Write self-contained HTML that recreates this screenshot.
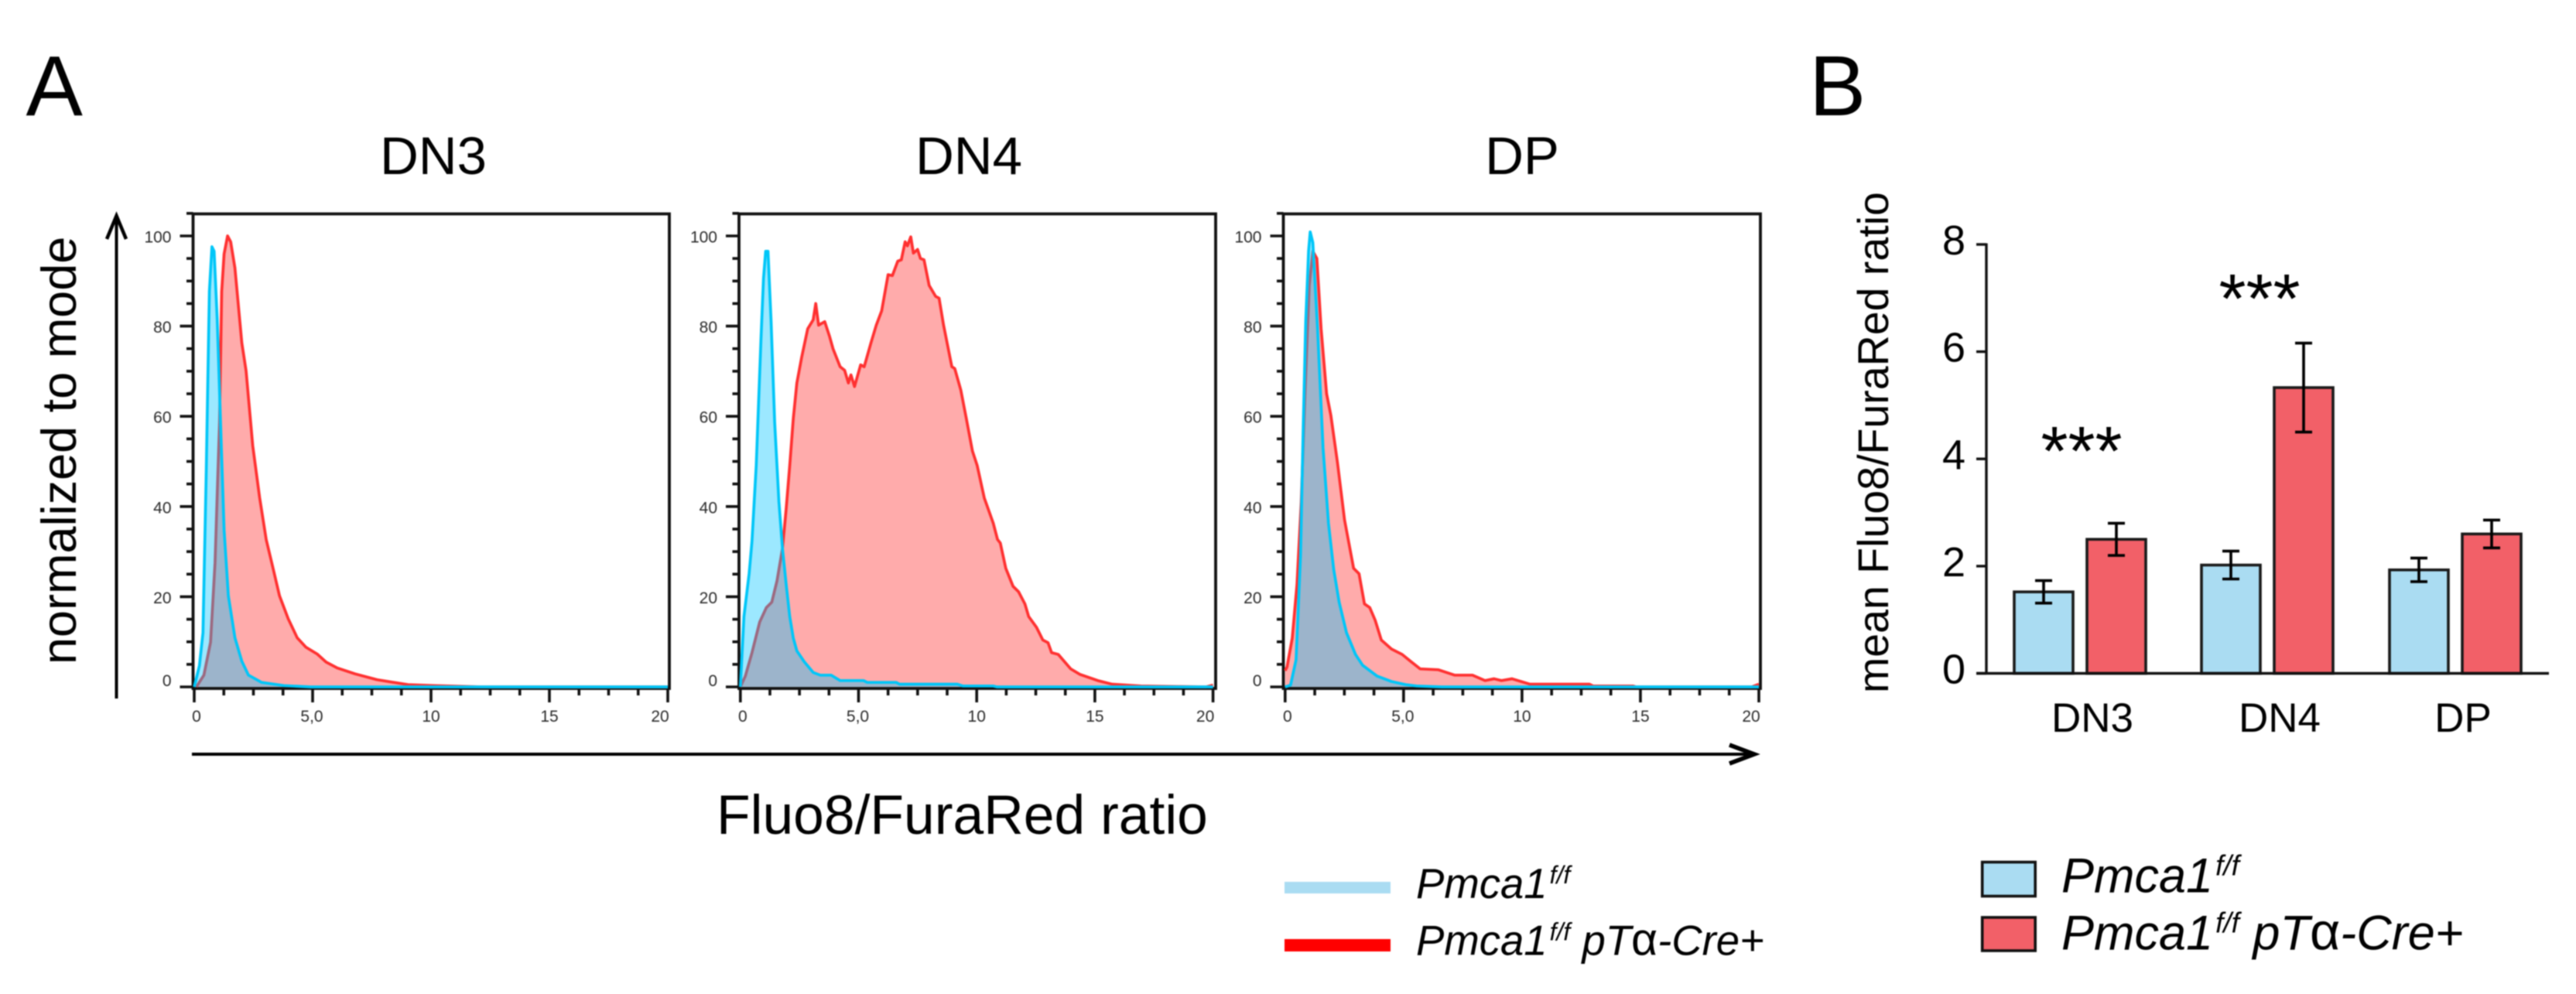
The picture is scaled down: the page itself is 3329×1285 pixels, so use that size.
<!DOCTYPE html>
<html lang="en">
<head>
<meta charset="utf-8">
<title>Fluo8/FuraRed ratio histograms and bar chart</title>
<style>
html,body{margin:0;padding:0;background:#fff;width:3329px;height:1285px;overflow:hidden}
svg{display:block;filter:blur(0.7px)}
text{font-family:"Liberation Sans",sans-serif;fill:#000}
.tick{font-size:21px;fill:#2a2a2a}
</style>
</head>
<body>
<svg id="fig" xmlns="http://www.w3.org/2000/svg" width="3329" height="1285" viewBox="0 0 3329 1285">
  <rect x="0" y="0" width="3329" height="1285" fill="#fff"/>
  <text x="33.5" y="149" font-size="110">A</text>
  <text x="2338" y="149" font-size="110">B</text>
  <text x="560" y="225" font-size="69" text-anchor="middle">DN3</text>
  <text x="1252" y="225" font-size="69" text-anchor="middle">DN4</text>
  <text x="1967" y="225" font-size="69" text-anchor="middle">DP</text>
  <text transform="translate(98,859) rotate(-90)" font-size="63">normalized to mode</text>
  <g fill="none" stroke="#000" stroke-width="4">
    <line x1="150.5" y1="279" x2="150.5" y2="903"/>
    <polyline points="138,309 150.5,279 163,309" stroke-width="4.5"/>
  </g>
  <g fill="none" stroke="#000" stroke-width="4">
    <line x1="248" y1="975" x2="2266" y2="975"/>
    <polyline points="2235,963 2267,975 2235,987" stroke-width="5.5"/>
  </g>
  <text x="926" y="1078" font-size="71.4">Fluo8/FuraRed ratio</text>

  <rect x="1660" y="1140" width="137" height="15" fill="#aadcf2"/>
  <rect x="1660" y="1214" width="137" height="16" fill="#ff0000"/>
  <text x="1830" y="1161" font-size="54.5" font-style="italic">Pmca1<tspan font-size="32" dy="-19" dx="3">f/f</tspan></text>
  <text x="1830" y="1234.5" font-size="54.5" font-style="italic">Pmca1<tspan font-size="32" dy="-19" dx="3">f/f</tspan><tspan dy="19"> pT</tspan><tspan font-style="normal" font-size="59">α</tspan>-Cre+</text>

  <rect x="2561.7" y="1114.5" width="68.5" height="44" fill="#aadcf2" stroke="#111" stroke-width="3.6"/>
  <rect x="2561.7" y="1186" width="68.5" height="43" fill="#f26068" stroke="#111" stroke-width="3.6"/>
  <text x="2664" y="1153.5" font-size="63" font-style="italic">Pmca1<tspan font-size="37" dy="-22" dx="3">f/f</tspan></text>
  <text x="2664" y="1227.5" font-size="63" font-style="italic">Pmca1<tspan font-size="37" dy="-22" dx="3">f/f</tspan><tspan dy="22"> pT</tspan><tspan font-style="normal" font-size="68">α</tspan>-Cre+</text>

  <text transform="translate(2440,896) rotate(-90)" font-size="55.5">mean Fluo8/FuraRed ratio</text>
  <text x="2690" y="614" font-size="90" text-anchor="middle">***</text>
  <text x="2920" y="417" font-size="90" text-anchor="middle">***</text>
</svg>
<script>
// Histogram tick labels
const histYTicks = [0, 20, 40, 60, 80, 100];
const histXTicks = [0, 5, 10, 15, 20];
const histXTickLabels = ['0', '5,0', '10', '15', '20'];

// DN3 histogram series (ratio, % of mode)
const dn3RedX = [0.09,0.41,0.69,0.88,1.07,1.16,1.26,1.41,1.54,1.72,2.01,2.19,2.47,2.76,3.04,3.32,3.6,3.97,4.35,4.72,5.19,5.57,6.04,6.79,7.72,9.03,10.16,12.13,20];
const dn3RedY = [0,2.6,9.9,27.5,58.7,87.7,96,100,98.7,92.9,76.3,70.1,53.5,42,32.7,26.5,20.2,15.1,10.9,8.8,7.3,5.5,4.2,2.9,1.6,0.5,0.3,0,0];
const dn3BlueX = [0,0.22,0.37,0.51,0.64,0.75,0.84,0.97,1.11,1.26,1.44,1.72,2.01,2.29,2.85,3.79,4.91,20];
const dn3BlueY = [0,4.7,12,48.3,87.7,97.6,96.6,81.5,58.7,34.8,20.2,10.9,5.7,2.6,1,0.3,0,0];

// DN4 histogram series
const dn4RedX = [0,0.21,0.49,0.82,1.1,1.33,1.55,1.78,1.94,2.09,2.24,2.39,2.59,2.85,3.08,3.19,3.31,3.57,3.77,3.92,4.22,4.41,4.57,4.68,4.83,5.09,5.24,5.52,5.75,5.98,6.25,6.43,6.66,6.81,6.97,7.07,7.21,7.32,7.5,7.62,7.77,7.99,8.26,8.41,8.6,8.95,9.07,9.33,9.56,9.82,10.02,10.32,10.7,10.88,11,11.23,11.54,11.77,12.04,12.2,12.53,12.8,13.02,13.17,13.45,13.98,14.36,15.12,15.73,16.95,19.7,20];
const dn4RedY = [0,2.4,7.6,14.4,17.6,18.8,23.5,30.7,39.5,49.1,59.5,67.4,73,79.4,81.4,85,80.2,81,77.8,75,71,70.2,67.4,69.2,66.6,71.4,71,76.2,80.2,83.4,91.4,91.2,94.4,94.7,98.7,97.8,99.8,96.2,97,95,94.7,89,86.6,86.2,80.2,71,70.6,65.8,59.5,52.3,49.1,41.9,36.3,32.7,31.9,26.3,22.3,21.1,18.4,15.6,13.2,10.4,9.8,7.6,7.2,4,2.8,1.4,0.6,0.2,0,0.4];
const dn4BlueX = [0,0.15,0.37,0.49,0.67,0.87,0.98,1.07,1.17,1.3,1.45,1.63,1.78,1.94,2.09,2.24,2.39,2.7,3.08,3.38,3.84,4.22,5.21,5.37,6.59,6.74,9.18,9.41,10.7,10.85,20];
const dn4BlueY = [0,15.6,25.1,32.3,49.1,77,90.6,96.6,96.6,81,58.7,41.1,30.7,22.7,15.6,10.8,8,5.6,3.2,2.6,2.6,1.4,1.4,1,1,0.6,0.6,0.2,0.2,0,0];

// DP histogram series
const dpRedX = [0,0.08,0.3,0.5,0.68,0.84,1.02,1.17,1.34,1.52,1.75,1.93,2.21,2.51,2.89,3.12,3.35,3.57,3.8,4.06,4.49,4.94,5.32,5.7,6.46,7.15,7.91,8.44,8.82,9.13,9.58,10.34,12.85,13,14.68,14.83,19.7,20];
const dpRedY = [3.6,4.4,10.8,22.7,41,65,89,96.6,95,79.4,65,60.2,49.8,37,26.3,25.1,18.4,17.6,14.8,10.4,8.4,7.2,5.6,4,3.8,2.6,2.6,1.4,1.8,1.4,1.8,0.6,0.6,0.2,0.2,0,0,0.6];
const dpBlueX = [0,0.23,0.46,0.65,0.76,0.87,0.99,1.06,1.17,1.37,1.6,1.83,2.05,2.28,2.59,2.97,3.27,3.88,4.49,5.09,5.55,6.62,20];
const dpBlueY = [0,0.4,6,29.1,57,81,96.6,100.9,98.5,79.4,53,36.3,26,18.8,12,7.2,4.8,2.4,1.2,0.5,0.2,0,0];

// Bar chart data
const barCategories = ['DN3', 'DN4', 'DP'];
const controlMeans = [1.52, 2.02, 1.93];
const controlErrors = [0.21, 0.26, 0.22];
const knockoutMeans = [2.5, 5.33, 2.6];
const knockoutErrors = [0.3, 0.83, 0.26];
const barYTicks = [0, 2, 4, 6, 8];

const SVGNS = 'http://www.w3.org/2000/svg';
const fig = document.getElementById('fig');

function mk(tag, attrs, parent) {
  const el = document.createElementNS(SVGNS, tag);
  for (const k in attrs) el.setAttribute(k, attrs[k]);
  (parent || fig).appendChild(el);
  return el;
}

function drawHistogram(key, geom, redX, redY, blueX, blueY) {
  const xS = v => geom.x0 + v / 20 * (geom.x20 - geom.x0);
  const yS = v => geom.y0 - v / 100 * (geom.y0 - geom.y100);
  const group = mk('g', {});
  
  

  const line = (xs, ys) => xs.map((v, i) => xS(v).toFixed(1) + ',' + yS(ys[i]).toFixed(1)).join(' ');
  const area = (xs, ys) => xS(xs[0]).toFixed(1) + ',' + yS(0).toFixed(1) + ' ' + line(xs, ys) + ' ' + xS(xs[xs.length - 1]).toFixed(1) + ',' + yS(0).toFixed(1);

  const frame = mk('rect', { x: geom.left, y: geom.top, width: geom.right - geom.left, height: geom.bottom - geom.top, fill: 'none', stroke: '#111', 'stroke-width': 3.8 }, group);
  
  

  const redArea = mk('polygon', { points: area(redX, redY), fill: '#ffabab', stroke: 'none' }, group);
  
  
  const redLine = mk('polyline', { points: line(redX, redY), fill: 'none', stroke: '#ff3030', 'stroke-width': 3.7, 'stroke-linejoin': 'round' }, group);
  
  
  const blueArea = mk('polygon', { points: area(blueX, blueY), fill: '#00c4ff', 'fill-opacity': 0.39, stroke: 'none' }, group);
  
  
  const blueLine = mk('polyline', { points: line(blueX, blueY), fill: 'none', stroke: '#00c6f8', 'stroke-width': 3.7, 'stroke-linejoin': 'round' }, group);
  
  

  // y minor ticks every 5 units, major every 20
  for (let v = 0; v <= 105; v += 5) {
    const len = v % 20 === 0 ? 17 : 8.5;
    const t = mk('line', { x1: geom.left - len, x2: geom.left, y1: yS(v), y2: yS(v), stroke: '#111', 'stroke-width': 3.6 }, group);
    
    
  }
  // x minor ticks every 1.25 units, major every 5
  for (let v = 0; v <= 20; v += 1.25) {
    const len = v % 5 === 0 ? 18 : 9;
    const t = mk('line', { x1: xS(v), x2: xS(v), y1: geom.bottom, y2: geom.bottom + len, stroke: '#111', 'stroke-width': 3.6 }, group);
    
    
  }
  histYTicks.forEach(v => {
    const lab = mk('text', { x: geom.left - 28, y: yS(v) + (v === 0 ? -1 : 8.5), 'text-anchor': 'end', class: 'tick' }, group);
    lab.textContent = String(v);
    
    
  });
  histXTicks.forEach((v, i) => {
    const shift = v === 0 ? 3 : (v === 20 ? -10 : (v === 5 ? -1 : 0));
    const lab = mk('text', { x: xS(v) + shift, y: 933, 'text-anchor': 'middle', class: 'tick' }, group);
    lab.textContent = histXTickLabels[i];
    
    
  });
}

const commonY = { top: 276.5, bottom: 890, y0: 888, y100: 305 };
drawHistogram('dn3', Object.assign({ left: 249.5, right: 865, x0: 251, x20: 863 }, commonY), dn3RedX, dn3RedY, dn3BlueX, dn3BlueY);
drawHistogram('dn4', Object.assign({ left: 955, right: 1571, x0: 956.8, x20: 1567.6 }, commonY), dn4RedX, dn4RedY, dn4BlueX, dn4BlueY);
drawHistogram('dp', Object.assign({ left: 1658.5, right: 2275, x0: 1660.8, x20: 2273 }, commonY), dpRedX, dpRedY, dpBlueX, dpBlueY);

// Bar chart
(function () {
  const chartY0 = 870.5, chartY8 = 316;
  const yB = v => chartY0 - v / 8 * (chartY0 - chartY8);
  const groupLeft = [2603, 2845, 3088];
  const barW = 76, groupGap = 94;
  const labelCenter = [2704, 2946, 3183];
  const group = mk('g', {});
  
  

  function bar(x, val, err, color, name) {
    const r = mk('rect', { x: x, y: yB(val), width: barW, height: chartY0 - yB(val), fill: color, stroke: '#1a1a1a', 'stroke-width': 3.6 }, group);
    
    
    const cx = x + barW / 2;
    const eb = mk('path', { d: 'M' + cx + ' ' + yB(val + err) + 'V' + yB(val - err) + 'M' + (cx - 11) + ' ' + yB(val + err) + 'H' + (cx + 11) + 'M' + (cx - 11) + ' ' + yB(val - err) + 'H' + (cx + 11), fill: 'none', stroke: '#000', 'stroke-width': 3.6 }, group);
    
    
  }
  barCategories.forEach((c, i) => {
    const key = c.toLowerCase();
    bar(groupLeft[i], controlMeans[i], controlErrors[i], '#aadcf2', 'bar-' + key + '-control');
    bar(groupLeft[i] + groupGap, knockoutMeans[i], knockoutErrors[i], '#f26068', 'bar-' + key + '-knockout');
    const lab = mk('text', { x: labelCenter[i], y: 946, 'text-anchor': 'middle', 'font-size': 53 }, group);
    lab.textContent = c;
    
    
  });
  const yAxis = mk('line', { x1: 2567, x2: 2567, y1: yB(8) - 1.5, y2: chartY0, stroke: '#111', 'stroke-width': 3.4 }, group);
  
  
  const xAxis = mk('line', { x1: 2554, x2: 3294, y1: chartY0, y2: chartY0, stroke: '#111', 'stroke-width': 3.4 }, group);
  
  
  barYTicks.forEach(v => {
    const t = mk('line', { x1: 2554, x2: 2567, y1: yB(v), y2: yB(v), stroke: '#111', 'stroke-width': 3.4 }, group);
    
    
    const lab = mk('text', { x: 2540, y: yB(v) + 13, 'text-anchor': 'end', 'font-size': 54 }, group);
    lab.textContent = String(v);
    
    
  });
})();
</script>
</body>
</html>
